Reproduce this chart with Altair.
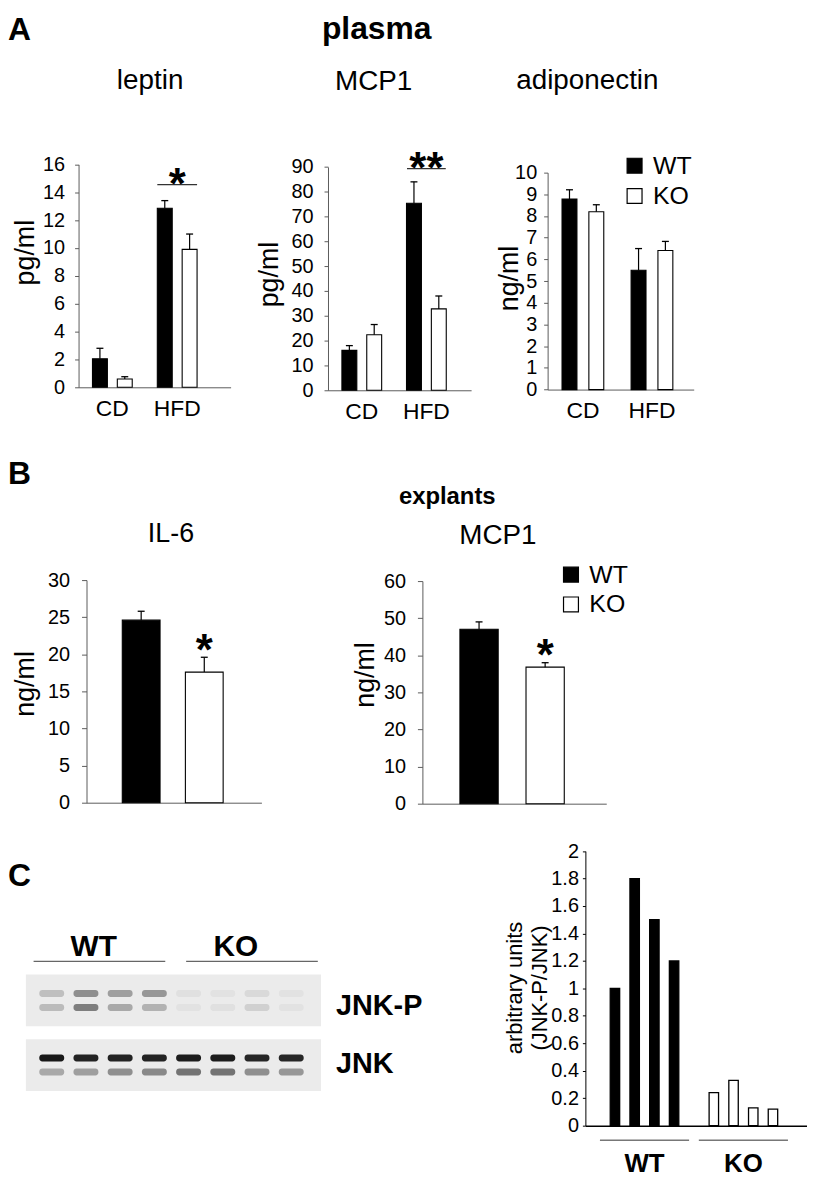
import altair as alt
import pandas as pd

SANS = "Liberation Sans"
GREY = "#5c5c5c"
CW, CH = 804, 1172  # drawing canvas (page minus 8px margin)

# ---------------- data ----------------
diets = ["CD", "HFD"]
genotypes = ["WT", "KO"]

leptin_mean = [2.05, 0.60, 12.85, 9.90]
leptin_sem = [0.75, 0.16, 0.55, 1.10]
leptin_ticks = [0, 2, 4, 6, 8, 10, 12, 14, 16]

mcp1_mean = [16.1, 22.4, 75.4, 32.8]
mcp1_sem = [1.9, 4.1, 8.6, 5.2]
mcp1_ticks = [0, 10, 20, 30, 40, 50, 60, 70, 80, 90]

adipo_mean = [8.78, 8.20, 5.50, 6.41]
adipo_sem = [0.43, 0.32, 1.00, 0.42]
adipo_ticks = [0, 1, 2, 3, 4, 5, 6, 7, 8, 9, 10]

il6_mean = [24.6, 17.6]
il6_sem = [1.2, 2.0]
il6_ticks = [0, 5, 10, 15, 20, 25, 30]

mcp1x_mean = [47.0, 36.8]
mcp1x_sem = [2.0, 1.2]
mcp1x_ticks = [0, 10, 20, 30, 40, 50, 60]

samples = ["1", "2", "3", "4"]
jnk_wt = [1.0, 1.8, 1.5, 1.2]
jnk_ko = [0.24, 0.33, 0.13, 0.12]
jnk_ticks = [0, 0.2, 0.4, 0.6, 0.8, 1, 1.2, 1.4, 1.6, 1.8, 2]

blots = ["JNK-P", "JNK"]
lanes = ["1", "2", "3", "4", "5", "6", "7", "8"]
levels = ["upper", "lower"]
jnkp_upper = [0.20, 0.42, 0.35, 0.38, 0.05, 0.04, 0.08, 0.04]
jnkp_lower = [0.22, 0.50, 0.30, 0.26, 0.04, 0.05, 0.12, 0.04]
jnk_upper = [0.97, 0.92, 0.92, 0.92, 0.95, 0.95, 0.90, 0.90]
jnk_lower = [0.30, 0.35, 0.42, 0.45, 0.55, 0.55, 0.42, 0.38]

leptin_sig = {"line": [14.55], "star": [15.3], "label": ["*"]}
mcp1_sig = {"line": [89.3], "star": [93.7], "label": ["**"]}
il6_sig = {"star": [21.96], "label": ["*"]}
mcp1x_sig = {"star": [42.86], "label": ["*"]}

FILL = alt.Fill("genotype:N", scale=alt.Scale(domain=genotypes, range=["black", "white"]), legend=None)


# ---------------- helpers ----------------
def band(r0, r1, c_first, c_last, n, bw):
    """Band scale over pixel range [r0, r1] whose band centres sit at c_first..c_last."""
    W = r1 - r0
    step = (c_last - c_first) / (n - 1)
    outer = W - (n - 1) * step - bw
    po = outer / (2 * step)
    if po > 1 or outer <= 0.01:
        return alt.Scale(range=[r0 + c_first - bw / 2, r0 + c_last + bw / 2],
                         paddingInner=1 - bw / step, paddingOuter=0)
    return alt.Scale(range=[r0, r1], paddingInner=1 - bw / step,
                     paddingOuter=po, align=(c_first - bw / 2) / outer)


def offsets(n, group_w, bar_w):
    step = (group_w - bar_w) / (n - 1)
    return alt.Scale(paddingInner=1 - bar_w / step, paddingOuter=0)


def y_axis(ticks, title, tx, ty, x0, pad, tick=4, color=GREY, fmt=None, tsize=28,
           baseline="middle", lh=None, lsize=20):
    kw = dict(orient="left", offset=-x0, values=ticks, title=title, grid=False,
              tickSize=tick, tickColor=color, domainColor=color, labelFont=SANS,
              labelFontSize=lsize, labelColor="black", labelPadding=pad, labelOverlap=False,
              titleFont=SANS, titleFontSize=tsize, titleFontWeight="normal",
              titleColor="black", titleAngle=270, titleBaseline=baseline,
              titleAlign="center", titleX=tx, titleY=ty)
    if fmt:
        kw["format"] = fmt
    if lh:
        kw["titleLineHeight"] = lh
    return alt.Axis(**kw)


def x_axis(y0, labels=True, size=23, weight="normal", pad=10, color=GREY, dw=1):
    return alt.Axis(orient="bottom", offset=y0 - CH, title=None, labels=labels,
                    labelAngle=0, ticks=False, domainColor=color, domainWidth=dw,
                    labelFont=SANS, labelFontSize=size, labelFontWeight=weight,
                    labelColor="black", labelPadding=pad)


def bar_panel(df, xfield, xdomain, xsc, yr, ticks, yax, offsc=None, sig=None, sig_w=40):
    df = df.copy()
    df["upper"] = df["mean"] + df["sem"]
    ysc = alt.Scale(domain=[0, ticks[-1]], range=list(yr), nice=False)
    x = alt.X(f"{xfield}:N", sort=xdomain, scale=xsc, axis=x_axis(yr[0], labels=(xfield == "diet")))
    enc = dict(x=x)
    if offsc is not None:
        enc["xOffset"] = alt.XOffset("genotype:N", sort=genotypes, scale=offsc)
    base = alt.Chart(df)
    layers = [
        base.mark_bar(stroke="black", strokeWidth=1.1).encode(
            y=alt.Y("mean:Q", scale=ysc, axis=yax), fill=FILL, **enc),
        base.mark_rule(color="black", strokeWidth=1.2).encode(
            y=alt.Y("mean:Q", scale=ysc, axis=yax), y2="upper", **enc),
        base.mark_tick(color="black", thickness=1.3, size=7, opacity=1).encode(
            y=alt.Y("upper:Q", scale=ysc, axis=yax), **enc),
    ]
    if sig:
        sdf = pd.DataFrame(sig)
        if "line" in sdf:
            layers.append(alt.Chart(sdf).mark_tick(color="#333333", thickness=1.2, size=sig_w, opacity=1)
                          .encode(x=x, y=alt.Y("line:Q", scale=ysc, axis=yax)))
        layers.append(alt.Chart(sdf).mark_text(fontSize=44, fontWeight="bold", font=SANS,
                                               baseline="alphabetic", dy=25, color="black")
                      .encode(x=x, y=alt.Y("star:Q", scale=ysc, axis=yax), text="label:N"))
    return alt.layer(*layers)


def label(text, x, y, size, weight="normal", align="center", baseline="alphabetic"):
    return alt.Chart(pd.DataFrame({"t": [text]})).mark_text(
        fontSize=size, fontWeight=weight, align=align, baseline=baseline, font=SANS,
        color="black").encode(x=alt.value(x), y=alt.value(y), text="t:N")


def legend(xsq, ys, xtxt):
    ldf = pd.DataFrame({"genotype": genotypes})
    ysc = alt.Scale(type="point", domain=genotypes, range=ys, padding=0)
    y = alt.Y("genotype:N", sort=genotypes, scale=ysc, axis=None)
    sq = alt.Chart(ldf).mark_square(size=225, stroke="black", strokeWidth=1.2, opacity=1).encode(
        x=alt.value(xsq), y=y, fill=FILL)
    tx = alt.Chart(ldf).mark_text(align="left", baseline="middle", fontSize=25, font=SANS,
                                  color="black").encode(x=alt.value(xtxt), y=y, text="genotype:N")
    return [sq, tx]


# ---------------- panel A ----------------
def plasma_df(means, sems):
    return pd.DataFrame({"diet": [d for d in diets for _ in genotypes],
                         "genotype": genotypes * len(diets), "mean": means, "sem": sems})


def with_group(sig, key, value):
    s = dict(sig)
    s[key] = [value]
    return s


leptin = bar_panel(plasma_df(leptin_mean, leptin_sem), "diet", diets,
                   band(71, 224, 34, 99.25, 2, 40), (378, 153.7), leptin_ticks,
                   y_axis(leptin_ticks, "pg/ml", -53, 242, 71, 10, tsize=27),
                   offsc=offsets(2, 40, 15), sig=with_group(leptin_sig, "diet", "HFD"), sig_w=40)
mcp1 = bar_panel(plasma_df(mcp1_mean, mcp1_sem), "diet", diets,
                 band(322, 466, 34, 99, 2, 40), (381, 156.3), mcp1_ticks,
                 y_axis(mcp1_ticks, "pg/ml", -59, 264, 322, 11, tsize=27),
                 offsc=offsets(2, 40, 15), sig=with_group(mcp1_sig, "diet", "HFD"), sig_w=39)
adipo = bar_panel(plasma_df(adipo_mean, adipo_sem), "diet", diets,
                  band(543, 690, 35.5, 105, 2, 42), (380.3, 162), adipo_ticks,
                  y_axis(adipo_ticks, "ng/ml", -38, 268, 543, 7, tsize=27),
                  offsc=offsets(2, 42, 15))

# ---------------- panel B ----------------
il6 = bar_panel(pd.DataFrame({"genotype": genotypes, "mean": il6_mean, "sem": il6_sem}),
                "genotype", genotypes, band(79, 255, 55, 118.5, 2, 38), (796, 572), il6_ticks,
                y_axis(il6_ticks, "ng/ml", -61, 676, 79, 12, tick=5, tsize=27),
                sig=with_group(il6_sig, "genotype", "KO"))
mcp1x = bar_panel(pd.DataFrame({"genotype": genotypes, "mean": mcp1x_mean, "sem": mcp1x_sem}),
                  "genotype", genotypes, band(417, 602, 57, 123.5, 2, 38.5), (797, 573), mcp1x_ticks,
                  y_axis(mcp1x_ticks, "ng/ml", -57, 667, 417, 12, tick=5, tsize=27),
                  sig=with_group(mcp1x_sig, "genotype", "KO"))

# ---------------- panel C: bar chart ----------------
cdf = pd.DataFrame({"genotype": ["WT"] * 4 + ["KO"] * 4, "sample": samples * 2,
                    "ratio": jnk_wt + jnk_ko})
xc = alt.X("genotype:N", sort=genotypes, scale=band(581, 804, 59.5, 159, 2, 69),
           axis=x_axis(1121, size=26, weight="bold", pad=25, color="black", dw=1.5))
xoc = alt.XOffset("sample:N", sort=samples, scale=offsets(4, 69, 9.5))
yc = alt.Y("ratio:Q", scale=alt.Scale(domain=[0, 2], range=[1121, 844.7], nice=False),
           axis=y_axis(jnk_ticks, ["arbitrary units", "(JNK-P/JNK)"], -59, 982, 581, 4,
                       tick=3, color="black", fmt="~g", tsize=22, baseline="bottom", lh=25))
jnk_bars = alt.Chart(cdf).mark_bar(stroke="black", strokeWidth=1.3).encode(
    x=xc, xOffset=xoc, y=yc, fill=FILL)
jnk_under = alt.Chart(pd.DataFrame({"genotype": genotypes})).mark_bar(
    width=alt.RelativeBandSize(1.3), color="#777777").encode(
    x=xc, y=alt.value(1135), y2=alt.value(1136.5))
jnk_chart = alt.layer(jnk_bars, jnk_under)

# ---------------- panel C: blot ----------------
yb = alt.Scale(domain=blots, range=[969, 1086], paddingInner=0.2, paddingOuter=0)
yblot = alt.Y("blot:N", sort=blots, scale=yb, axis=None)
blot_bg = alt.Chart(pd.DataFrame({"blot": blots})).mark_rect(color="#ebebeb").encode(
    y=yblot, x=alt.value(18), x2=alt.value(315))
band_rows = []
for b, up, lo in [("JNK-P", jnkp_upper, jnkp_lower), ("JNK", jnk_upper, jnk_lower)]:
    for lv, vals in [("upper", up), ("lower", lo)]:
        for ln, v in zip(lanes, vals):
            band_rows.append({"blot": b, "level": lv, "lane": ln, "intensity": v})
blot_bands = alt.Chart(pd.DataFrame(band_rows)).mark_rect(color="#111111", cornerRadius=3).encode(
    x=alt.X("lane:N", sort=lanes, scale=band(18, 315, 26, 267, 8, 25), axis=None),
    y=yblot,
    yOffset=alt.YOffset("level:N", sort=levels, scale=band(0, 52, 19, 33, 2, 7)),
    opacity=alt.Opacity("intensity:Q", scale=None))
gdf = pd.DataFrame({"grp": genotypes})
xg = alt.X("grp:N", sort=genotypes, scale=band(25, 311, 67, 220.5, 2, 132.5), axis=None)
grp_lines = alt.Chart(gdf).mark_rect(color="#666666").encode(x=xg, y=alt.value(955), y2=alt.value(956.3))
grp_text = alt.Chart(gdf).mark_text(fontSize=30, fontWeight="bold", font=SANS, dx=-11,
                                    baseline="alphabetic", color="black").encode(
    x=xg, y=alt.value(950), text="grp:N")
blot_labels = alt.Chart(pd.DataFrame({"blot": blots})).mark_text(
    align="left", baseline="middle", fontSize=29, fontWeight="bold", font=SANS, dy=2,
    color="black").encode(x=alt.value(330), y=yblot, text="blot:N")

# ---------------- titles ----------------
texts = [
    label("A", 0, 29, 32, "bold", "left"),
    label("plasma", 371, 28, 32, "bold"),
    label("leptin", 143, 78, 28),
    label("MCP1", 368, 79, 28),
    label("adiponectin", 583, 78, 28),
    label("B", 0, 475, 32, "bold", "left"),
    label("explants", 442, 495, 24, "bold"),
    label("IL-6", 164, 534, 27),
    label("MCP1", 493, 536, 28),
    label("C", 0, 880, 32, "bold", "left"),
]

chart = alt.layer(
    leptin, mcp1, adipo, il6, mcp1x, jnk_chart,
    *legend(630.5, [155, 185.5], 649),
    *legend(566.5, [566.5, 596.5], 585),
    blot_bg, blot_bands, grp_lines, grp_text, blot_labels,
    *texts,
).resolve_scale(
    x="independent", y="independent", xOffset="independent", yOffset="independent"
).resolve_axis(
    x="independent", y="independent"
).properties(
    width=CW, height=CH, padding=0, autosize=alt.AutoSizeParams(type="none")
).configure_view(stroke=None)

chart.save("out.html", embed_options={"renderer": "svg", "actions": False})
